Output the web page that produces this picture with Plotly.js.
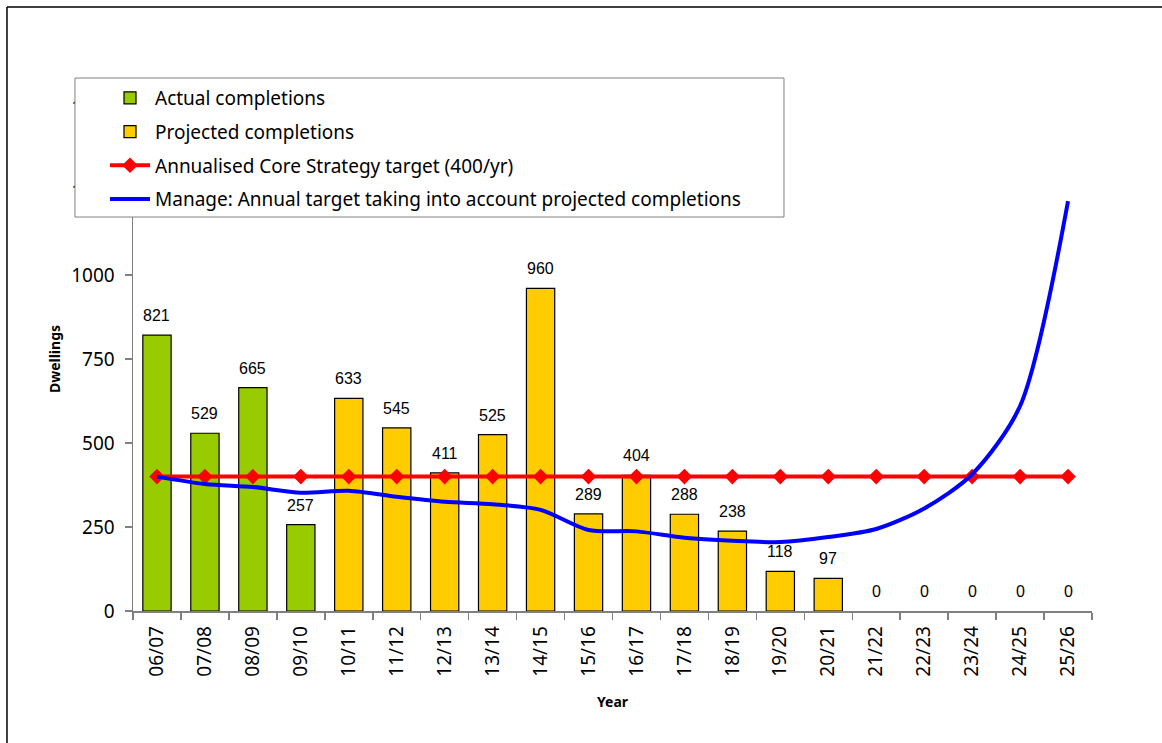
<!DOCTYPE html>
<html>
<head>
<meta charset="utf-8">
<script src="https://cdn.plot.ly/plotly-3.0.1.min.js"></script>
<style>
  html, body { margin: 0; padding: 0; background: #fff; }
  #chart { width: 1162px; height: 743px; }
</style>
</head>
<body>
<div id="chart"></div>
<script>
// Chart data
const years = ['06/07', '07/08', '08/09', '09/10', '10/11', '11/12', '12/13', '13/14', '14/15', '15/16',
               '16/17', '17/18', '18/19', '19/20', '20/21', '21/22', '22/23', '23/24', '24/25', '25/26'];
const actualCompletions = [821, 529, 665, 257, null, null, null, null, null, null,
                           null, null, null, null, null, null, null, null, null, null];
const projectedCompletions = [null, null, null, null, 633, 545, 411, 525, 960, 289,
                              404, 288, 238, 118, 97, 0, 0, 0, 0, 0];
const coreTarget = [400, 400, 400, 400, 400, 400, 400, 400, 400, 400,
                    400, 400, 400, 400, 400, 400, 400, 400, 400, 400];
const manageTarget = [400, 378, 369, 352, 358, 340, 325, 318, 301, 241,
                      237, 218, 209, 205, 220, 244, 305, 407, 610, 1220];

const tickFont = { family: 'Noto Sans, sans-serif', size: 19, color: '#000' };
const labelFont = { family: 'Liberation Sans, Arial, sans-serif', size: 16, color: '#000' };
const titleFont = { family: 'Noto Sans, sans-serif', size: 14, color: '#000', weight: 'bold' };

// no outline on zero-height bars (the legend swatch keeps its outline)
const outlineWidth = vals => vals.map(v => (v === 0 ? 0 : 1.2));

const traces = [
  {
    type: 'bar', name: 'Actual completions', x: years, y: actualCompletions,
    marker: { color: '#99CC00', line: { color: '#000', width: outlineWidth(actualCompletions) } },
    legendgroup: 'a'
  },
  {
    type: 'bar', name: 'Projected completions', x: years, y: projectedCompletions,
    marker: { color: '#FFCC00', line: { color: '#000', width: outlineWidth(projectedCompletions) } },
    legendgroup: 'b'
  },
  {
    type: 'scatter', mode: 'lines+markers', name: 'Annualised Core Strategy target (400/yr)',
    x: years, y: coreTarget,
    line: { color: '#FF0000', width: 4 },
    marker: { symbol: 'diamond', size: 12, color: '#FF0000' },
    legendgroup: 'c'
  },
  {
    type: 'scatter', mode: 'lines', name: 'Manage: Annual target taking into account projected completions',
    x: years, y: manageTarget,
    line: { color: '#0000FF', width: 4, shape: 'spline', smoothing: 0.8 },
    legendgroup: 'd'
  }
];

// value labels above the bars (zeros included)
const barValues = actualCompletions.map((v, i) => v !== null ? v : projectedCompletions[i]);
const annotations = years.map((yr, i) => ({
  x: yr, y: barValues[i], xref: 'x', yref: 'y',
  text: String(barValues[i]), showarrow: false,
  yanchor: 'bottom', yshift: 9, font: labelFont
}));

const shapes = [
  // chart frame: only the top and left edges show in the picture
  { type: 'line', xref: 'paper', yref: 'paper', x0: -0.1314, x1: -0.1314, y0: -0.3, y1: 1.1984,
    line: { color: '#000', width: 1.5 } },
  { type: 'line', xref: 'paper', yref: 'paper', x0: -0.1314, x1: 1.2, y0: 1.1984, y1: 1.1984,
    line: { color: '#000', width: 1.5 } },
  // legend box (wider than plotly's own legend box)
  { type: 'rect', xref: 'paper', yref: 'paper', layer: 'above',
    x0: -0.0605, x1: 0.6788, y0: 0.7817, y1: 1.0575,
    fillcolor: '#fff', line: { color: '#808080', width: 1 } }
];

const layout = {
  width: 1162, height: 743,
  margin: { l: 133, r: 70, t: 107, b: 132 },
  paper_bgcolor: '#fff', plot_bgcolor: '#fff',
  barmode: 'overlay', bargap: 0.41,
  showlegend: true,
  legend: {
    x: -0.0292, y: 1.0555, xanchor: 'left', yanchor: 'top',
    bgcolor: 'rgba(0,0,0,0)', borderwidth: 0,
    font: { family: 'Noto Sans, sans-serif', size: 19, color: '#000' },
    traceorder: 'grouped', tracegroupgap: 6, itemwidth: 40
  },
  xaxis: {
    type: 'category', range: [-0.5, 19.5], tickson: 'boundaries',
    showline: true, linecolor: '#808080', linewidth: 1.5,
    ticks: 'outside', ticklen: 7, tickcolor: '#808080', tickwidth: 1.5,
    tickangle: -90, tickfont: tickFont, ticklabelstandoff: 6,
    showgrid: false, zeroline: false,
    title: { text: 'Year', font: titleFont, standoff: 21 }
  },
  yaxis: {
    range: [0, 1500], dtick: 250,
    showline: true, linecolor: '#808080', linewidth: 1.5,
    ticks: 'outside', ticklen: 7, tickcolor: '#808080', tickwidth: 1.5,
    tickfont: tickFont, ticklabelstandoff: 6,
    showgrid: false, zeroline: false,
    title: { text: 'Dwellings', font: titleFont, standoff: 7 }
  },
  annotations: annotations,
  shapes: shapes
};

Plotly.newPlot('chart', traces, layout, { displayModeBar: false, staticPlot: true });
</script>
</body>
</html>
